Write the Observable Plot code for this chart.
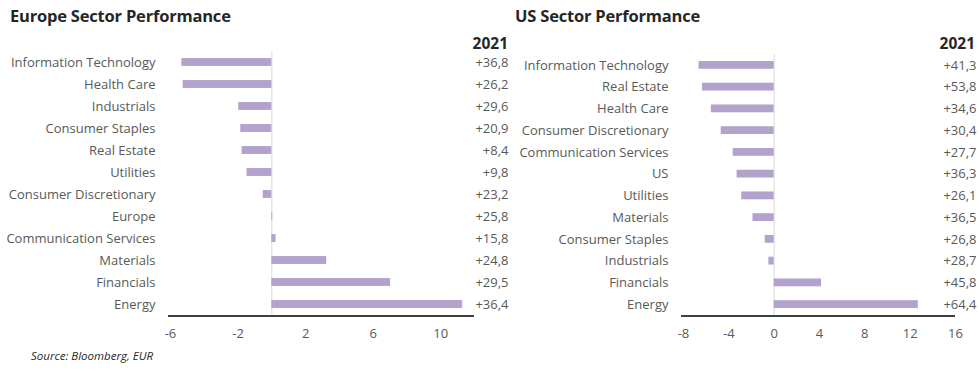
<!DOCTYPE html>
<html>
<head>
<meta charset="utf-8">
<script src="https://cdn.jsdelivr.net/npm/d3@7"></script>
<script src="https://cdn.jsdelivr.net/npm/@observablehq/plot@0.6"></script>
<style>
  html, body { margin: 0; padding: 0; background: #fff; }
  body { width: 979px; height: 371px; position: relative; overflow: hidden; font-family: "Open Sans", sans-serif; }
  .title { position: absolute; font-weight: bold; font-size: 16.5px; color: #262626; letter-spacing: -0.2px; }
  .hdr { position: absolute; font-weight: bold; font-size: 15.5px; color: #262626; text-align: right; }
  .src { position: absolute; font-style: italic; font-size: 11.5px; color: #262626; }
  .chart { position: absolute; top: 0; }
</style>
</head>
<body>
<div class="title" style="left:10px; top:4px;">Europe Sector Performance</div>
<div class="title" style="left:515px; top:4px;">US Sector Performance</div>
<div class="hdr" style="left:430px; width:78px; top:32px;">2021</div>
<div class="hdr" style="left:897px; width:78px; top:32px;">2021</div>
<div class="src" style="left:31px; top:348px;">Source: Bloomberg, EUR</div>
<div id="eu" class="chart" style="left:0px;"></div>
<div id="us" class="chart" style="left:500px;"></div>
<script>
// Europe
const euSectors = ["Information Technology","Health Care","Industrials","Consumer Staples","Real Estate","Utilities","Consumer Discretionary","Europe","Communication Services","Materials","Financials","Energy"];
const euValues = [-5.33,-5.25,-1.96,-1.84,-1.76,-1.47,-0.51,0.05,0.25,3.25,7.03,11.3];
const eu2021 = ["+36,8","+26,2","+29,6","+20,9","+8,4","+9,8","+23,2","+25,8","+15,8","+24,8","+29,5","+36,4"];
const euTicks = [-6,-2,2,6,10];

// US
const usSectors = ["Information Technology","Real Estate","Health Care","Consumer Discretionary","Communication Services","US","Utilities","Materials","Consumer Staples","Industrials","Financials","Energy"];
const usValues = [-6.63,-6.33,-5.54,-4.67,-3.62,-3.27,-2.86,-1.87,-0.79,-0.47,4.18,12.72];
const us2021 = ["+41,3","+53,8","+34,6","+30,4","+27,7","+36,3","+26,1","+36,5","+26,8","+28,7","+45,8","+64,4"];
const usTicks = [-8,-4,0,4,8,12,16];

const barColor = "#b3a3cc";
const labelColor = "#595959";
const fontFamily = "'Open Sans', sans-serif";

function makeChart({sectors, values, labels, ticks, domain, width, marginLeft, marginRight, marginTop, dxLabel}) {
  const data = sectors.map((s, i) => ({sector: s, value: values[i], label: labels[i]}));
  const height = 350;
  const marginBottom = height - 315;
  const chart = Plot.plot({
    width, height,
    marginLeft, marginRight, marginTop, marginBottom,
    style: {fontFamily, fontSize: "13px", color: labelColor, background: "transparent"},
    x: {domain, ticks, tickSize: 0, tickPadding: 13, label: null, tickFormat: d => String(d)},
    y: {domain: sectors, paddingInner: 0.64, paddingOuter: 0.32, round: false, label: null, tickSize: 0, tickPadding: 15},
    marks: [
      Plot.ruleX([0], {stroke: "#d9d9d9", strokeWidth: 1}),
      Plot.barX(data, {y: "sector", x: "value", fill: barColor}),
      Plot.text(data, {y: "sector", text: "label", frameAnchor: "right", dx: dxLabel, textAnchor: "end", fill: labelColor, fontSize: 13})
    ]
  });
  // bottom axis baseline across the x domain, positioned with the chart's own x scale
  const sx = chart.scale("x");
  d3.select(chart).append("line")
    .attr("x1", sx.apply(domain[0]) - 2)
    .attr("x2", sx.apply(domain[1]))
    .attr("y1", height - marginBottom + 1)
    .attr("y2", height - marginBottom + 1)
    .attr("stroke", "#000")
    .attr("stroke-width", 1.5);
  return chart;
}

document.getElementById("eu").append(makeChart({
  sectors: euSectors, values: euValues, labels: eu2021, ticks: euTicks,
  domain: [-6, 12], width: 515, marginLeft: 170, marginRight: 41, marginTop: 51, dxLabel: 34
}));
document.getElementById("us").append(makeChart({
  sectors: usSectors, values: usValues, labels: us2021, ticks: usTicks,
  domain: [-8, 16], width: 479, marginLeft: 183, marginRight: 24, marginTop: 54, dxLabel: 21
}));
</script>
</body>
</html>
